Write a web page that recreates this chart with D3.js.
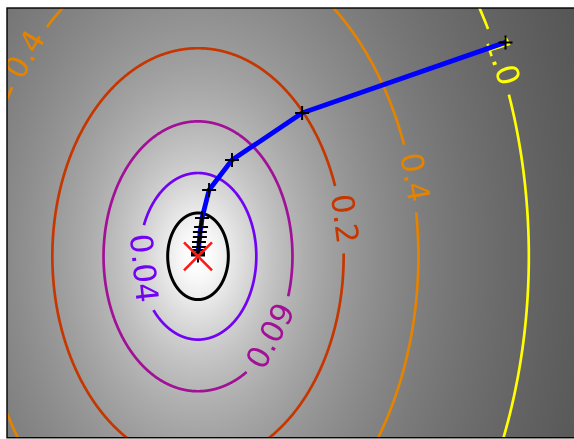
<!DOCTYPE html>
<html><head><meta charset="utf-8">
<script src="https://cdn.jsdelivr.net/npm/d3@7"></script>
<style>
html,body{margin:0;padding:0;background:#fff;}
#wrap{position:relative;width:574px;height:439px;overflow:hidden;}
canvas,svg{position:absolute;left:0;top:0;}
text{font-family:"DejaVu Sans",sans-serif;}
</style></head><body>
<div id="wrap"><canvas id="bg" width="574" height="439"></canvas><svg id="chart" width="574" height="439"></svg></div>
<script>
// ---- data ----
const quadCoef = 0.33;          // f(x,y) = 0.33*(x^2 + (eps*y)^2)
const epsilon = 0.7;
const logOffset = 0.01;         // shown field: log(f + 0.01)
const xDomain = [-1, 2];
const yDomain = [-0.95, 1.3];
const contourLevels = [-4.0, -3.2, -2.4, -1.6, -0.8, 0.0];
const labelTexts  = ["0.04", "0.09", "0.2", "0.4", "0.4", "1.0"];
const labelLevels = [-3.2, -2.4, -1.6, -0.8, -0.8, 0.0];
const labelParamDeg = [188.5, -37, 10.3, 140.5, 14.4, 24.3];
const pathX = [1.61, 0.545, 0.178, 0.058, 0.021, 0.016, 0.010, 0.010, 0.005, 0.005, 0.0, 0.0, 0.0, 0.0];
const pathY = [1.12, 0.750, 0.504, 0.347, 0.200, 0.153, 0.127, 0.101, 0.075, 0.049, 0.033, 0.020, 0.012, 0.004];
const minimumX = [0];
const minimumY = [0];

// ---- layout ----
const W = 574, H = 439;
const x = d3.scaleLinear().domain(xDomain).range([7, 580]);
const y = d3.scaleLinear().domain(yDomain).range([437.75, 8]);

const f = (a, b) => quadCoef * (a * a + (epsilon * b) * (epsilon * b));
const logz = (a, b) => Math.log(f(a, b) + logOffset);

// image normalisation as in imshow(vmax = min + 1.5*ptp) over a 100x100 grid
const gx = d3.range(100).map(i => xDomain[0] + i * (xDomain[1] - xDomain[0]) / 99);
const gy = d3.range(100).map(i => yDomain[0] + i * (yDomain[1] - yDomain[0]) / 99);
let vmin = Infinity, vmax0 = -Infinity;
gx.forEach(a => gy.forEach(b => { const v = logz(a, b); if (v < vmin) vmin = v; if (v > vmax0) vmax0 = v; }));
const vmax = vmin + 1.5 * (vmax0 - vmin);
const gray = d3.scaleLinear().domain([vmin, vmax]).range([255, 0]).clamp(true);

// background image
const ctx = document.getElementById("bg").getContext("2d");
const img = ctx.createImageData(W, H);
for (let py = 0; py < H; py++) {
  for (let px = 0; px < W; px++) {
    const k = (py * W + px) * 4;
    let g = 255;
    if (px >= 7 && px < 580 && py >= 8 && py < 437.75) {
      g = gray(logz(x.invert(px + 0.5), y.invert(py + 0.5)));
    }
    img.data[k] = g; img.data[k + 1] = g; img.data[k + 2] = g; img.data[k + 3] = 255;
  }
}
ctx.putImageData(img, 0, 0);

// gnuplot colormap
const lvlNorm = d3.scaleLinear().domain(d3.extent(contourLevels)).range([0, 1]);
function gnuplot(t) {
  const r = Math.sqrt(t), g = t * t * t, b = Math.max(0, Math.sin(2 * Math.PI * t));
  return d3.rgb(r * 255, g * 255, b * 255).formatHex();
}

const svg = d3.select("#chart");
svg.append("defs").append("clipPath").attr("id", "ax")
  .append("rect").attr("x", 7).attr("y", 8).attr("width", 573).attr("height", 429.75);
const plot = svg.append("g").attr("clip-path", "url(#ax)");

const FS = 31;
function semiAxes(L) {
  const z = Math.exp(L) - logOffset;
  const a = Math.sqrt(z / quadCoef);
  return [a, a / epsilon];
}

// labels first (to measure)
const labels = labelTexts.map((txt, i) => {
  const L = labelLevels[i];
  const [a, b] = semiAxes(L);
  const t = labelParamDeg[i] * Math.PI / 180;
  const cx = x(a * Math.cos(t)), cy = y(b * Math.sin(t));
  const dx = x(-a * Math.sin(t)) - x(0), dy = y(b * Math.cos(t)) - y(0);
  let ang = Math.atan2(dy, dx) * 180 / Math.PI;
  ang = (((ang + 90) % 180) + 180) % 180 - 90;
  return { txt, L, cx, cy, ang };
});

const contourG = plot.append("g");
const labelG = plot.append("g");
labels.forEach(l => {
  const t = labelG.append("text")
    .attr("transform", `translate(${l.cx},${l.cy}) rotate(${l.ang})`)
    .attr("text-anchor", "middle")
    .attr("dy", "0.23em")
    .attr("font-size", FS)
    .attr("fill", gnuplot(lvlNorm(l.L)))
    .text(l.txt);
  l.w = t.node().getComputedTextLength();
});

contourLevels.forEach(L => {
  const [a, b] = semiAxes(L);
  const pts = d3.range(0, 1441).map(i => {
    const t = i / 1440 * 2 * Math.PI;
    return [x(a * Math.cos(t)), y(b * Math.sin(t))];
  });
  const mine = labels.filter(l => l.L === L);
  const defined = p => mine.every(l => Math.hypot(p[0] - l.cx, p[1] - l.cy) > l.w / 2 + 9);
  contourG.append("path")
    .attr("d", d3.line().defined(defined)(pts))
    .attr("fill", "none")
    .attr("stroke", gnuplot(lvlNorm(L)))
    .attr("stroke-width", L === contourLevels[0] ? 3 : 2.7);
});

// descent path
const pts = pathX.map((v, i) => [x(v), y(pathY[i])]);
plot.append("path").attr("d", d3.line()(pts))
  .attr("fill", "none").attr("stroke", "#0000ff").attr("stroke-width", 4.8)
  .attr("stroke-linejoin", "round");
const ms = 7;
plot.append("g").selectAll("path").data(pts).join("path")
  .attr("d", p => `M${p[0] - ms},${p[1]}H${p[0] + ms}M${p[0]},${p[1] - ms}V${p[1] + ms}`)
  .attr("stroke", "#000").attr("stroke-width", 2).attr("fill", "none");

// minimum marker
const rs = 14;
plot.append("g").selectAll("path").data(minimumX.map((v, i) => [x(v), y(minimumY[i])])).join("path")
  .attr("d", p => `M${p[0] - rs},${p[1] - rs}L${p[0] + rs},${p[1] + rs}M${p[0] - rs},${p[1] + rs}L${p[0] + rs},${p[1] - rs}`)
  .attr("stroke", "#ff1a1a").attr("stroke-width", 2.6).attr("fill", "none");

// spines
svg.append("rect").attr("x", 7).attr("y", 8).attr("width", 573).attr("height", 429.75)
  .attr("fill", "none").attr("stroke", "#000").attr("stroke-width", 1.4);
</script></body></html>
